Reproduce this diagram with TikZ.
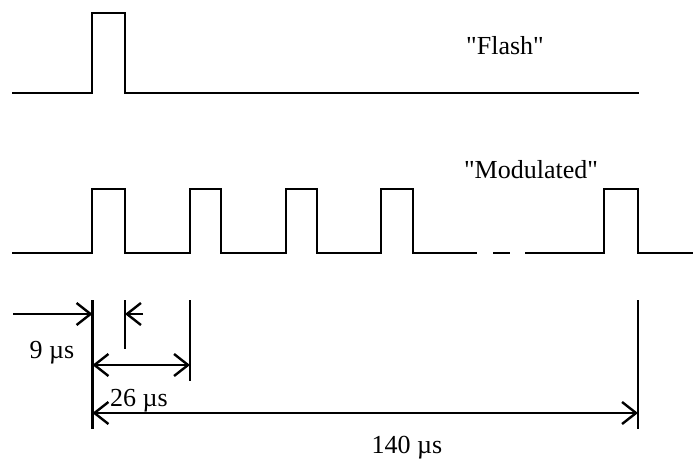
\documentclass[tikz,border=0pt]{standalone}
\usepackage{fontspec}
\setmainfont{Liberation Serif}
\usetikzlibrary{arrows.meta}
\begin{document}
\begin{tikzpicture}[x=1pt,y=-1pt,
  wave/.style={line width=2.8pt, line join=miter},
  dim/.style={line width=2.4pt},
  barb/.tip={Straight Barb[length=14pt,width=22pt]},
  lbl/.style={font=\fontsize{26}{30}\selectfont, inner sep=0pt, anchor=base}]
\useasboundingbox (0,0) rectangle (693,461);
% Flash waveform
\draw[wave] (12,93) -- (92,93) -- (92,13) -- (125,13) -- (125,93) -- (639,93);
% Modulated waveform
\draw[wave] (12,253) -- (92,253) -- (92,189) -- (125,189) -- (125,253)
  -- (190,253) -- (190,189) -- (221,189) -- (221,253)
  -- (286,253) -- (286,189) -- (317,189) -- (317,253)
  -- (381,253) -- (381,189) -- (413,189) -- (413,253) -- (477,253);
\draw[wave] (493,253) -- (510,253);
\draw[wave] (525,253) -- (604,253) -- (604,189) -- (638,189) -- (638,253) -- (693,253);
% labels
\node[lbl] (flash) at (505,54) {\textquotedbl Flash\textquotedbl};
\node[lbl] (mod) at (531,178) {\textquotedbl Modulated\textquotedbl};
% reference lines
\coordinate (a0) at (92.5,300); \coordinate (a1) at (92.5,429);
\coordinate (b0) at (125,300);  \coordinate (b1) at (125,349);
\coordinate (c0) at (190,300);  \coordinate (c1) at (190,381);
\coordinate (d0) at (638,300);  \coordinate (d1) at (638,429);
\draw[dim] (a0) -- (a1);
\draw[dim] (b0) -- (b1);
\draw[dim] (c0) -- (c1);
\draw[dim] (d0) -- (d1);
% dimension arrows
\coordinate (s9) at (13,314);   \coordinate (e9) at (92.5,314);
\coordinate (s9b) at (143,314); \coordinate (e9b) at (125,314);
\coordinate (s26) at (92.5,365); \coordinate (e26) at (190,365);
\coordinate (s140) at (92.5,413); \coordinate (e140) at (638,413);
\draw[dim,-barb] (s9) -- (e9);
\draw[dim,-barb] (s9b) -- (e9b);
\draw[dim,barb-barb] (s26) -- (e26);
\draw[dim,barb-barb] (s140) -- (e140);
\node[lbl] (t9) at (52,358) {9 µs};
\node[lbl] (t26) at (139,406) {26 µs};
\node[lbl] (t140) at (407,453) {140 µs};
\end{tikzpicture}
\end{document}
